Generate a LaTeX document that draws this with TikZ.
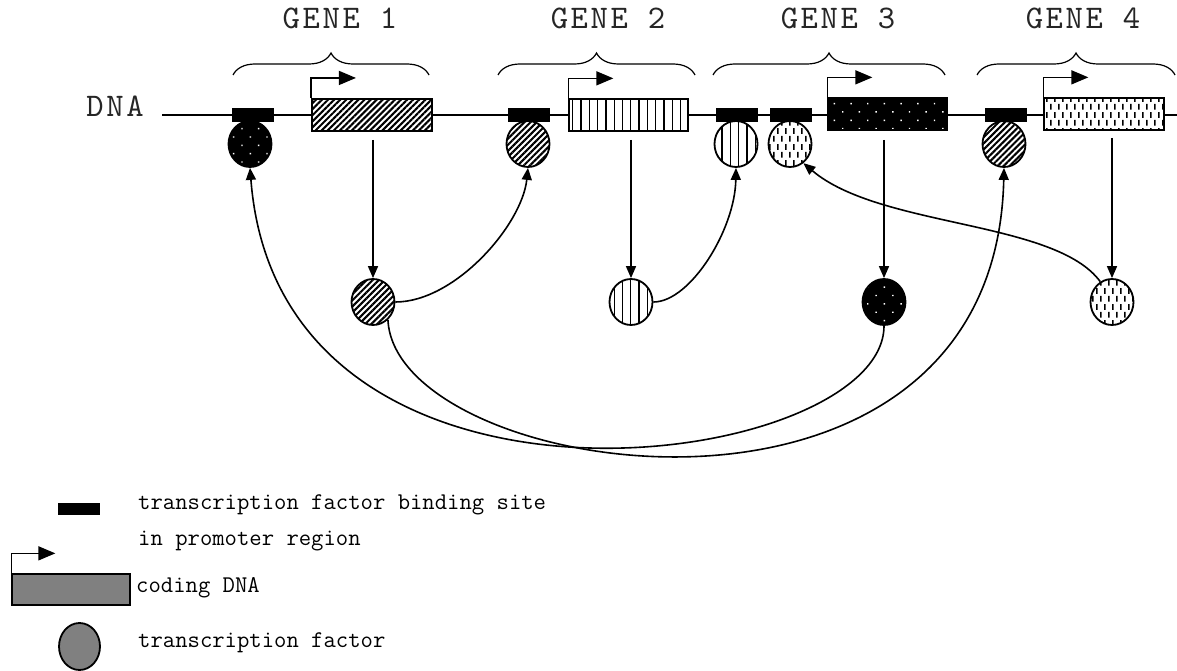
\documentclass[tikz,border=0pt]{standalone}
\usepackage{fontspec}
\newfontfamily\genefont{lmmono10-regular.otf}[LetterSpace=8]
\usetikzlibrary{shapes.geometric,patterns,patterns.meta,arrows.meta,decorations.pathreplacing}
\pgfdeclarepatternformonly{vdash}{\pgfpointorigin}{\pgfqpoint{8.4pt}{16pt}}{\pgfqpoint{8.4pt}{16pt}}{%
  \pgfsetlinewidth{1.6pt}%
  \pgfpathmoveto{\pgfqpoint{2pt}{1.5pt}}\pgfpathlineto{\pgfqpoint{2pt}{7.5pt}}%
  \pgfpathmoveto{\pgfqpoint{6.2pt}{9.5pt}}\pgfpathlineto{\pgfqpoint{6.2pt}{15.5pt}}%
  \pgfusepath{stroke}}
\begin{document}
\begin{tikzpicture}[x=1pt,y=-1pt,
  dna/.style={line width=1.4pt},
  site/.style={draw=black, fill=black, minimum width=41pt, minimum height=13pt, inner sep=0pt},
  codebox/.style={draw=black, line width=1.3pt, minimum width=120pt, minimum height=32pt, inner sep=0pt},
  tf/.style={ellipse, draw=black, line width=1.8pt, minimum width=43pt, minimum height=46pt, inner sep=0pt},
  hatch/.style={preaction={fill=white}, pattern={Lines[angle=45,distance=4.3pt,line width=2.1pt]}},
  vstripe/.style={preaction={fill=white}, pattern={Lines[angle=90,distance=8.3pt,line width=1.3pt]}},
  bdots/.style={preaction={fill=black}, pattern={Dots[angle=45,distance=11.8pt,radius=1pt]}, pattern color=white},
  vdashes/.style={preaction={fill=white}, pattern=vdash},
  prom/.style={line width=1.5pt, -{Triangle[length=17pt,width=14pt]}},
  conn/.style={line width=1.6pt, -{Triangle[length=12pt,width=10pt]}},
  gene/.style={font=\genefont\fontsize{33}{33}\selectfont, text=black!85, anchor=base, inner sep=0pt},
  leg/.style={font=\fontsize{24}{24}\ttfamily, anchor=base west, inner sep=0pt},
  brc/.style={line width=1.2pt, decorate, decoration={brace, amplitude=22pt}}]
\useasboundingbox (0,0) rectangle (1177,671);

% labels
\node[gene] (g1) at (340,28.5) {GENE 1};
\node[gene] (g2) at (608,28.5) {GENE 2};
\node[gene] (g3) at (838,28.5) {GENE 3};
\node[gene] (g4) at (1083,28.5) {GENE 4};
\node[gene] (dnalab) at (115,117) {DNA};

% braces
\coordinate (b1l) at (233,75); \coordinate (b1r) at (429,75);
\coordinate (b2l) at (498,75); \coordinate (b2r) at (695,75);
\coordinate (b3l) at (713,75); \coordinate (b3r) at (945,75);
\coordinate (b4l) at (977,75); \coordinate (b4r) at (1175,75);
\draw[brc] (b1l) -- (b1r);
\draw[brc] (b2l) -- (b2r);
\draw[brc] (b3l) -- (b3r);
\draw[brc] (b4l) -- (b4r);

% DNA line
\coordinate (dnaL) at (162,115); \coordinate (dnaR) at (1177,115);
\draw[dna] (dnaL) -- (dnaR);

% binding sites
\node[site] (s1) at (252.5,115) {};
\node[site] (s2) at (528.5,115) {};
\node[site] (s3a) at (736.5,115) {};
\node[site] (s3b) at (790.5,115) {};
\node[site] (s4) at (1006,115) {};

% coding boxes
\node[codebox, hatch] (c1) at (372,115) {};
\node[codebox, vstripe, minimum width=119pt] (c2) at (628.5,115) {};
\node[codebox, bdots, minimum width=119pt] (c3) at (887.5,114) {};
\node[codebox, vdashes] (c4) at (1104,114) {};

% promoter arrows
\draw[prom] (c1.north west) -- ++(0,-20) -- ++(45,0);
\draw[prom] (c2.north west) -- ++(0,-20) -- ++(45,0);
\draw[prom] (c3.north west) -- ++(0,-20) -- ++(45,0);
\draw[prom] (c4.north west) -- ++(0,-20) -- ++(45,0);

% bound transcription factors
\node[tf, bdots] (t1) at (250,144) {};
\node[tf, hatch] (t2) at (528,144) {};
\node[tf, vstripe] (t3a) at (736,144) {};
\node[tf, vdashes] (t3b) at (790,144) {};
\node[tf, hatch] (t4) at (1004,144) {};

% produced transcription factors
\node[tf, hatch] (l1) at (373,302) {};
\node[tf, vstripe] (l2) at (631,302) {};
\node[tf, bdots] (l3) at (884,302) {};
\node[tf, vdashes] (l4) at (1112,302) {};

% expression arrows
\coordinate (v1) at (373,140);
\coordinate (v2) at (631,140);
\coordinate (v3) at (884,140);
\coordinate (v4) at (1112,138);
\draw[conn] (v1) -- (l1.north);
\draw[conn] (v2) -- (l2.north);
\draw[conn] (v3) -- (l3.north);
\draw[conn] (v4) -- (l4.north);

% regulation curves
\draw[conn] (l1.east) .. controls (455,302) and (522,225) .. (t2.south);
\draw[conn] (l2.east) .. controls (690,302) and (735,230) .. (t3a.south);
\draw[conn] (l1.-50) .. controls (395,480) and (995,571) .. (t4.south);
\draw[conn] (l3.south) .. controls (884,470) and (280,555) .. (t1.south);
\draw[conn] (l4.120) .. controls (1055,220) and (880,228) .. (t3b.-55);

% legend
\node[site, minimum height=11pt] (ls) at (78.5,508.5) {};
\node[leg] (lt1) at (138,509) {transcription factor binding site};
\node[leg] (lt2) at (138,545) {in promoter region};
\node[codebox, fill=gray, minimum width=118pt, minimum height=31pt] (lc) at (71,589.5) {};
\draw[prom] (lc.north west) -- ++(0,-20) -- ++(44,0);
\node[leg] (lt3) at (136,592) {coding DNA};
\node[tf, fill=gray, minimum width=41pt, minimum height=47pt] (le) at (79.5,646.5) {};
\node[leg] (lt4) at (138,647) {transcription factor};
\end{tikzpicture}
\end{document}
